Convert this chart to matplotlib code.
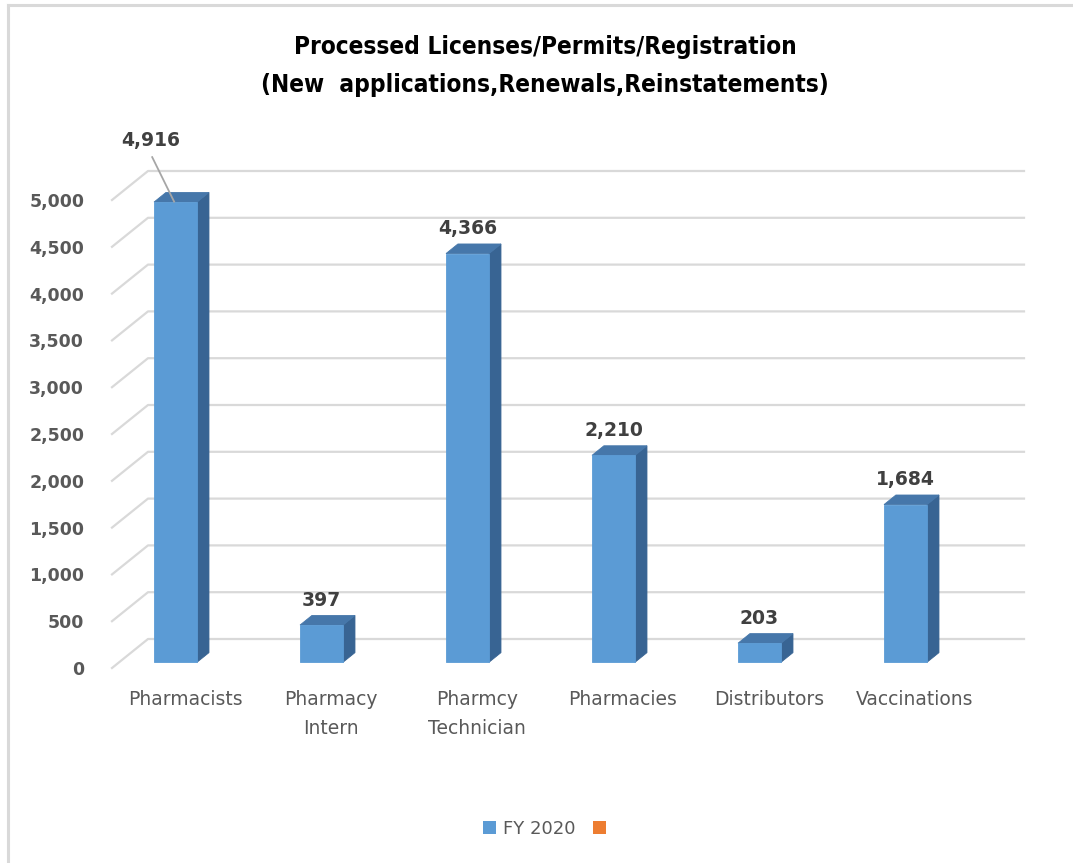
"""
Processed Licenses/Permits/Registration - 3D-like column chart
"""

import matplotlib.pyplot as plt
from matplotlib.patches import Polygon, Patch
from matplotlib.lines import Line2D

# =============== Data ======================
CATEGORIES = ["Pharmacists", "Pharmacy\nIntern", "Pharmcy\nTechnician",
              "Pharmacies", "Distributors", "Vaccinations"]
FY2020 = [4916, 397, 4366, 2210, 203, 1684]
Y_TICKS = [0, 500, 1000, 1500, 2000, 2500, 3000, 3500, 4000, 4500, 5000]
SERIES = ["FY 2020", ""]
TITLE = "Processed Licenses/Permits/Registration\n(New  applications,Renewals,Reinstatements)"

# =============== Style ======================
W, H, DPI = 1073, 863, 100
FRONT = "#5B9BD5"
TOP = "#4677AA"
SIDE = "#386493"
GRID = "#D9D9D9"
TXT = "#595959"
LBL = "#404040"

# depth of the fake 3D box (x in category units, y in value units)
DX = 36 / 146
DY = 29 * 5000 / 468
D0, D1 = 0.2, 0.53   # bar front / back in depth fraction
BW = 0.295           # bar width
OFF = -0.114         # bar shift inside its category


def proj(x, v, d):
    """point on depth plane d -> axes data coords"""
    return (x + d * DX, v + d * DY)


fig = plt.figure(figsize=(W / DPI, H / DPI), dpi=DPI)
ax = fig.add_axes([112 / W, 1 - 668 / H, 876 / W, 468 / H])
ax.set_xlim(-0.5, len(CATEGORIES) - 0.5)
ax.set_ylim(0, 5000)
ax.patch.set_visible(False)
for s in ax.spines.values():
    s.set_visible(False)

# gridlines on the floor/back wall
x_lo, x_hi = -0.5, len(CATEGORIES) - 0.5
for v in Y_TICKS:
    ax.plot([x_lo, x_lo + DX, x_hi + DX], [v, v + DY, v + DY],
            color=GRID, lw=1.6, clip_on=False, zorder=1)

# bars
for i, v in enumerate(FY2020):
    xc = i + OFF
    x0, x1 = xc - BW / 2, xc + BW / 2
    front = [proj(x0, 0, D0), proj(x1, 0, D0), proj(x1, v, D0), proj(x0, v, D0)]
    side = [proj(x1, 0, D0), proj(x1, 0, D1), proj(x1, v, D1), proj(x1, v, D0)]
    top = [proj(x0, v, D0), proj(x1, v, D0), proj(x1, v, D1), proj(x0, v, D1)]
    for poly, col in ((side, SIDE), (top, TOP), (front, FRONT)):
        ax.add_patch(Polygon(poly, closed=True, fc=col, ec=col, lw=0.6,
                             clip_on=False, zorder=3))

    fx, fy = proj(xc, v, D0)
    if i == 0:
        # this label was dragged away, with a leader line
        ax.plot([fx - 0.16, fx - 0.01], [fy + 480, fy + 5], color="#A6A6A6",
                lw=1.3, clip_on=False, zorder=4)
        ax.text(fx - 0.168, fy + 663, f"{v:,}", ha="center", va="center",
                fontsize=13.5, fontweight="bold", color=LBL)
    else:
        ax.text(fx, fy + 267, f"{v:,}", ha="center", va="center",
                fontsize=13.5, fontweight="bold", color=LBL)

# axes labels
ax.set_xticks(range(len(CATEGORIES)))
ax.set_xticklabels(CATEGORIES, linespacing=1.65)
ax.tick_params(axis="x", length=0, pad=16, labelsize=13.5, colors=TXT)
ax.set_yticks(Y_TICKS)
ax.set_yticklabels([f"{t:,}" for t in Y_TICKS], fontweight="bold")
ax.tick_params(axis="y", length=0, pad=20, labelsize=12.5, colors=TXT)

# title
fig.text(545 / W, 1 - 66 / H, TITLE, ha="center", va="center",
         fontsize=17.5, fontweight="bold", fontstretch="condensed",
         color="black", linespacing=1.7, family=["DejaVu Sans"])

# legend
handles = [Patch(fc=FRONT), Patch(fc="#ED7D31")]
leg = fig.legend(handles, SERIES, loc="center", bbox_to_anchor=(548 / W, 1 - 829 / H),
                 ncol=2, frameon=False, fontsize=13, handlelength=0.72,
                 handleheight=0.72, handletextpad=0.4, columnspacing=1.0)
for t in leg.get_texts():
    t.set_color(TXT)

# chart border (top and left edges visible)
fig.add_artist(Line2D([8 / W, 1], [1 - 5 / H, 1 - 5 / H], color=GRID, lw=2.2))
fig.add_artist(Line2D([8 / W, 8 / W], [0, 1 - 5 / H], color=GRID, lw=2.2))

fig.savefig("out.png", dpi=DPI)
